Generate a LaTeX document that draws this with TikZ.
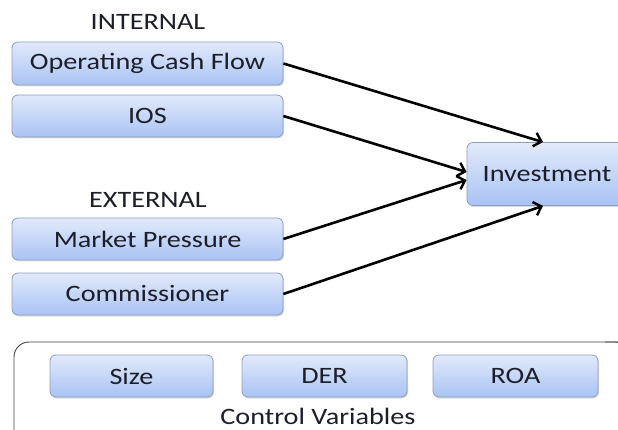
\documentclass[tikz,border=0pt]{standalone}
\usepackage{fontspec}
\setmainfont{Carlito}[FakeStretch=1.2]
\usetikzlibrary{arrows.meta,shadows}

\definecolor{boxtop}{HTML}{E2EAFB}
\definecolor{boxbot}{HTML}{A9C3F4}
\definecolor{boxline}{HTML}{8C9EBF}
\definecolor{inktext}{HTML}{1C1F2A}

\begin{document}
\begin{tikzpicture}[x=1pt,y=-1pt,
    varbox/.style={rectangle, rounded corners=6pt, draw=boxline, line width=0.8pt,
      top color=boxtop, bottom color=boxbot, text=inktext,
      drop shadow={shadow xshift=1pt, shadow yshift=-1.5pt, opacity=0.3},
      font=\fontsize{23.5}{27}\selectfont, inner sep=0pt},
    heading/.style={text=inktext, font=\fontsize{23.5}{27}\selectfont, inner sep=0pt},
    link/.style={line width=2.6pt, -{Straight Barb[length=7pt,width=14pt,line width=2.4pt]}}]
    \useasboundingbox (0,0) rectangle (618,430);
    \clip (0,0) rectangle (618,430);

    % Group headings
    \node [heading] (internal) at (148,22) {INTERNAL};
    \node [heading] (external) at (148,200) {EXTERNAL};

    % Independent variables
    \node [varbox, minimum width=271pt, minimum height=43pt] (ocf) at (147.5,63.5) {Operating Cash Flow};
    \node [varbox, minimum width=271pt, minimum height=42pt] (ios) at (147.5,116) {IOS};
    \node [varbox, minimum width=271pt, minimum height=42pt] (mp) at (147.5,239) {Market Pressure};
    \node [varbox, minimum width=271pt, minimum height=42pt] (com) at (147.5,294) {Commissioner};

    % Dependent variable
    \node [varbox, minimum width=160pt, minimum height=63pt] (inv) at (547,174) {Investment};

    % Control variables
    \draw [line width=0.9pt, draw=black!75, rounded corners=15pt] (14,445) -- (14,342) -- (618,342);
    \draw [line width=0.9pt, draw=black!75, rounded corners=15pt] (605,342) -- (630,342) -- (630,445);
    \node [varbox, minimum width=163pt, minimum height=42pt] (size) at (131.5,376) {Size};
    \node [varbox, minimum width=165pt, minimum height=42pt] (der) at (324.5,376) {DER};
    \node [varbox, minimum width=165pt, minimum height=42pt] (roa) at (515.5,376) {ROA};
    \node [heading] (ctrl) at (318,416) {Control Variables};

    % Arrows
    \draw [link] (ocf.east) -- ([xshift=-4pt]inv.north);
    \draw [link] (ios.east) -- ([yshift=2pt]inv.west);
    \draw [link] (mp.east) -- ([yshift=-6pt]inv.west);
    \draw [link] (com.east) -- ([xshift=-4pt]inv.south);
\end{tikzpicture}
\end{document}
